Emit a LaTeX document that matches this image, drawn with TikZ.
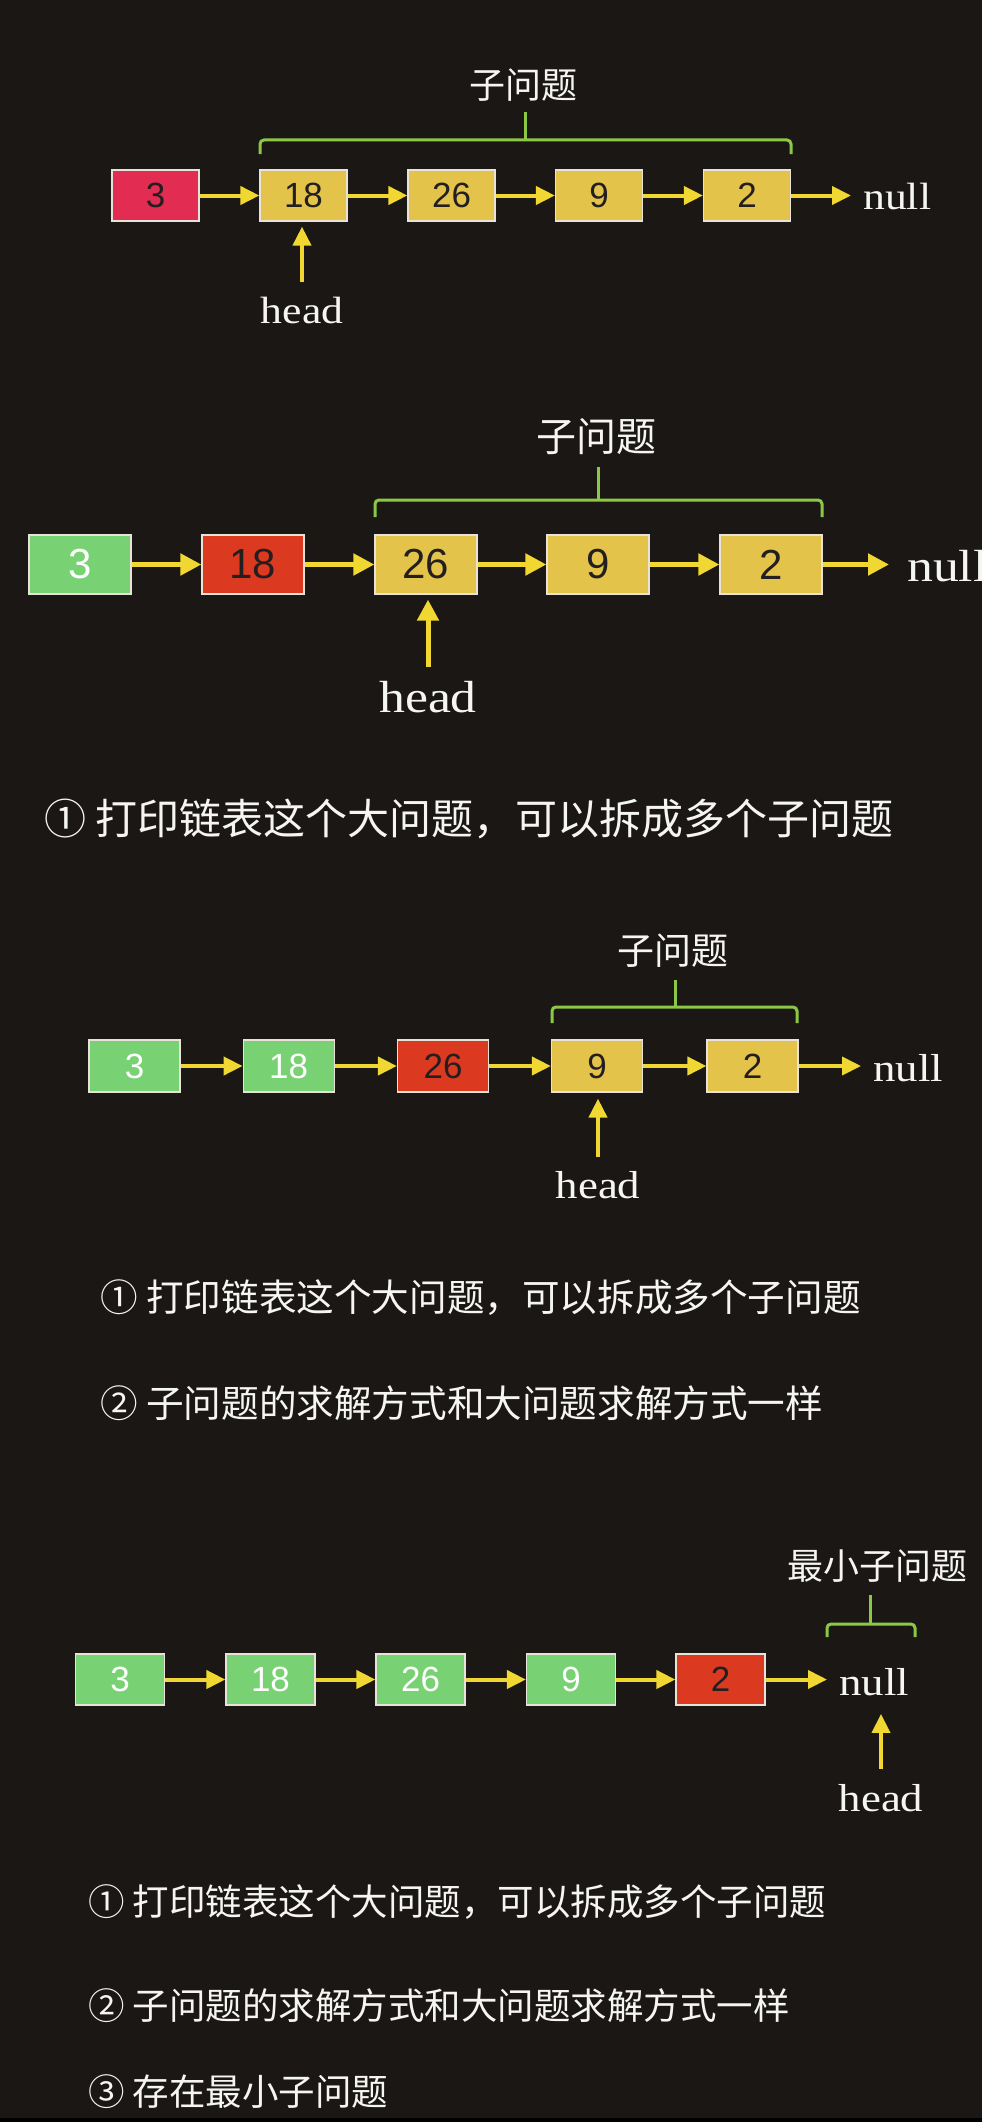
\documentclass[tikz,border=0pt]{standalone}
\usepackage{fontspec}
\usepackage{graphicx}
\usetikzlibrary{arrows.meta}
\setmainfont{Liberation Serif}
\newfontfamily\cjkf{Noto Sans CJK SC}
\newfontfamily\arialf{Liberation Sans}
\newcommand\myfs[1]{\fontsize{#1}{#1}\selectfont}
\newcommand\sx[1]{\scalebox{1.15}[1]{#1}}
\definecolor{bgc}{RGB}{26,23,20}
\definecolor{ylw}{RGB}{227,195,74}
\definecolor{grn}{RGB}{120,210,115}
\definecolor{redA}{RGB}{226,44,82}
\definecolor{redB}{RGB}{220,58,32}
\definecolor{arry}{RGB}{240,215,50}
\definecolor{brkg}{RGB}{140,200,70}
\definecolor{bline}{RGB}{232,226,216}
\definecolor{dtxt}{RGB}{35,30,32}
\definecolor{wtxt}{RGB}{245,245,242}
\begin{document}
\begin{tikzpicture}[x=1pt,y=-1pt,
  box/.style={draw=bline, line width=1.2pt, inner sep=0pt, text=dtxt},
  boxA/.style={box, minimum width=87pt, minimum height=51pt, font=\arialf\myfs{35}},
  boxB/.style={box, minimum width=102pt, minimum height=59pt, font=\arialf\myfs{42}},
  boxC/.style={box, minimum width=91pt, minimum height=52pt, font=\arialf\myfs{35}},
  boxD/.style={box, minimum width=89pt, minimum height=51pt, font=\arialf\myfs{35}},
  gbox/.style={fill=grn, text=white},
  ybox/.style={fill=ylw},
  arrS/.style={draw=arry, line width=4pt, -{Triangle[length=19pt,width=18pt]}},
  arrL/.style={draw=arry, line width=5pt, -{Triangle[length=21pt,width=21pt]}},
  brk/.style={draw=brkg, line width=3pt, rounded corners=4pt},
  txt/.style={text=wtxt, inner sep=0pt},
]
\fill[bgc] (0,0) rectangle (982,2122);
\useasboundingbox (0,0) rectangle (982,2122);
\fill[black] (0,2118) rectangle (982,2122);

% ---------- Panel 1 ----------
\node[boxA, fill=redA] (a1) at (155.5,195.5) {3};
\node[boxA, ybox] (a2) at (303.5,195.5) {18};
\node[boxA, ybox] (a3) at (451.5,195.5) {26};
\node[boxA, ybox] (a4) at (599,195.5) {9};
\node[boxA, ybox] (a5) at (747,195.5) {2};
\node[txt, anchor=west, font=\myfs{38}] (anull) at (863,197) {\sx{null}};
\node[txt, font=\myfs{38}] (ahead) at (302,310) {\sx{head}};
\node[txt, font=\cjkf\myfs{36}] (alab) at (523,85) {子问题};
\draw[arrS] (a1) -- (a2);
\draw[arrS] (a2) -- (a3);
\draw[arrS] (a3) -- (a4);
\draw[arrS] (a4) -- (a5);
\draw[arrS, shorten >=12pt] (a5.east) -- (a5.east -| anull.west);
\draw[arrS, shorten <=14pt, shorten >=5pt] (ahead.north) -- (ahead.north |- a2.south);
\draw[brk] (260,154) -- (260,140) -- (791,140) -- (791,154);
\draw[brk] (525,140) -- (525,112);

% ---------- Panel 2 ----------
\node[boxB, gbox] (b1) at (80,564.5) {3};
\node[boxB, fill=redB] (b2) at (253,564.5) {18};
\node[boxB, ybox] (b3) at (426,564.5) {26};
\node[boxB, ybox] (b4) at (598,564.5) {9};
\node[boxB, ybox] (b5) at (771,564.5) {2};
\node[txt, anchor=west, font=\myfs{45}] (bnull) at (907,566) {\sx{null}};
\node[txt, font=\myfs{45}] (bhead) at (428,697) {\sx{head}};
\node[txt, font=\cjkf\myfs{40}] (blab) at (596,437) {子问题};
\draw[arrL] (b1) -- (b2);
\draw[arrL] (b2) -- (b3);
\draw[arrL] (b3) -- (b4);
\draw[arrL] (b4) -- (b5);
\draw[arrL, shorten >=18pt] (b5.east) -- (b5.east -| bnull.west);
\draw[arrL, shorten <=14pt, shorten >=5pt] (bhead.north) -- (bhead.north |- b3.south);
\draw[brk] (375,517) -- (375,500) -- (822,500) -- (822,517);
\draw[brk] (598,500) -- (598,467);
\node[txt, anchor=west, font=\cjkf\myfs{42}] (bl1) at (44,819) {① 打印链表这个大问题，可以拆成多个子问题};

% ---------- Panel 3 ----------
\node[boxC, gbox] (c1) at (134.5,1066) {3};
\node[boxC, gbox] (c2) at (288.7,1066) {18};
\node[boxC, fill=redB] (c3) at (443,1066) {26};
\node[boxC, ybox] (c4) at (597,1066) {9};
\node[boxC, ybox] (c5) at (752.5,1066) {2};
\node[txt, anchor=west, font=\myfs{39}] (cnull) at (873,1068) {\sx{null}};
\node[txt, font=\myfs{39}] (chead) at (598,1185) {\sx{head}};
\node[txt, font=\cjkf\myfs{37}] (clab) at (673,951) {子问题};
\draw[arrS] (c1) -- (c2);
\draw[arrS] (c2) -- (c3);
\draw[arrS] (c3) -- (c4);
\draw[arrS] (c4) -- (c5);
\draw[arrS, shorten >=12pt] (c5.east) -- (c5.east -| cnull.west);
\draw[arrS, shorten <=14pt, shorten >=6pt] (chead.north) -- (chead.north |- c4.south);
\draw[brk] (552,1023) -- (552,1007) -- (797,1007) -- (797,1023);
\draw[brk] (675,1007) -- (675,980);
\node[txt, anchor=west, font=\cjkf\myfs{37.6}] (cl1) at (100,1298) {① 打印链表这个大问题，可以拆成多个子问题};
\node[txt, anchor=west, font=\cjkf\myfs{37.6}] (cl2) at (100,1403) {② 子问题的求解方式和大问题求解方式一样};

% ---------- Panel 4 ----------
\node[boxD, gbox] (d1) at (120,1679.5) {3};
\node[boxD, gbox] (d2) at (270.5,1679.5) {18};
\node[boxD, gbox] (d3) at (420.5,1679.5) {26};
\node[boxD, gbox] (d4) at (571,1679.5) {9};
\node[boxD, fill=redB] (d5) at (720.5,1679.5) {2};
\node[txt, anchor=west, font=\myfs{39}] (dnull) at (839,1682) {\sx{null}};
\node[txt, font=\myfs{39}] (dhead) at (881,1798) {\sx{head}};
\node[txt, font=\cjkf\myfs{36}] (dlab) at (877,1566) {最小子问题};
\draw[arrS] (d1) -- (d2);
\draw[arrS] (d2) -- (d3);
\draw[arrS] (d3) -- (d4);
\draw[arrS] (d4) -- (d5);
\draw[arrS, shorten >=12pt] (d5.east) -- (d5.east -| dnull.west);
\draw[arrS, shorten <=15pt, shorten >=18pt] (dhead.north) -- (dhead.north |- dnull.south);
\draw[brk] (827,1637) -- (827,1624) -- (915,1624) -- (915,1637);
\draw[brk] (870,1624) -- (870,1595);
\node[txt, anchor=west, font=\cjkf\myfs{36.5}] (dl1) at (88,1902) {① 打印链表这个大问题，可以拆成多个子问题};
\node[txt, anchor=west, font=\cjkf\myfs{36.5}] (dl2) at (88,2006) {② 子问题的求解方式和大问题求解方式一样};
\node[txt, anchor=west, font=\cjkf\myfs{36.5}] (dl3) at (88,2092) {③ 存在最小子问题};
\end{tikzpicture}
\end{document}
